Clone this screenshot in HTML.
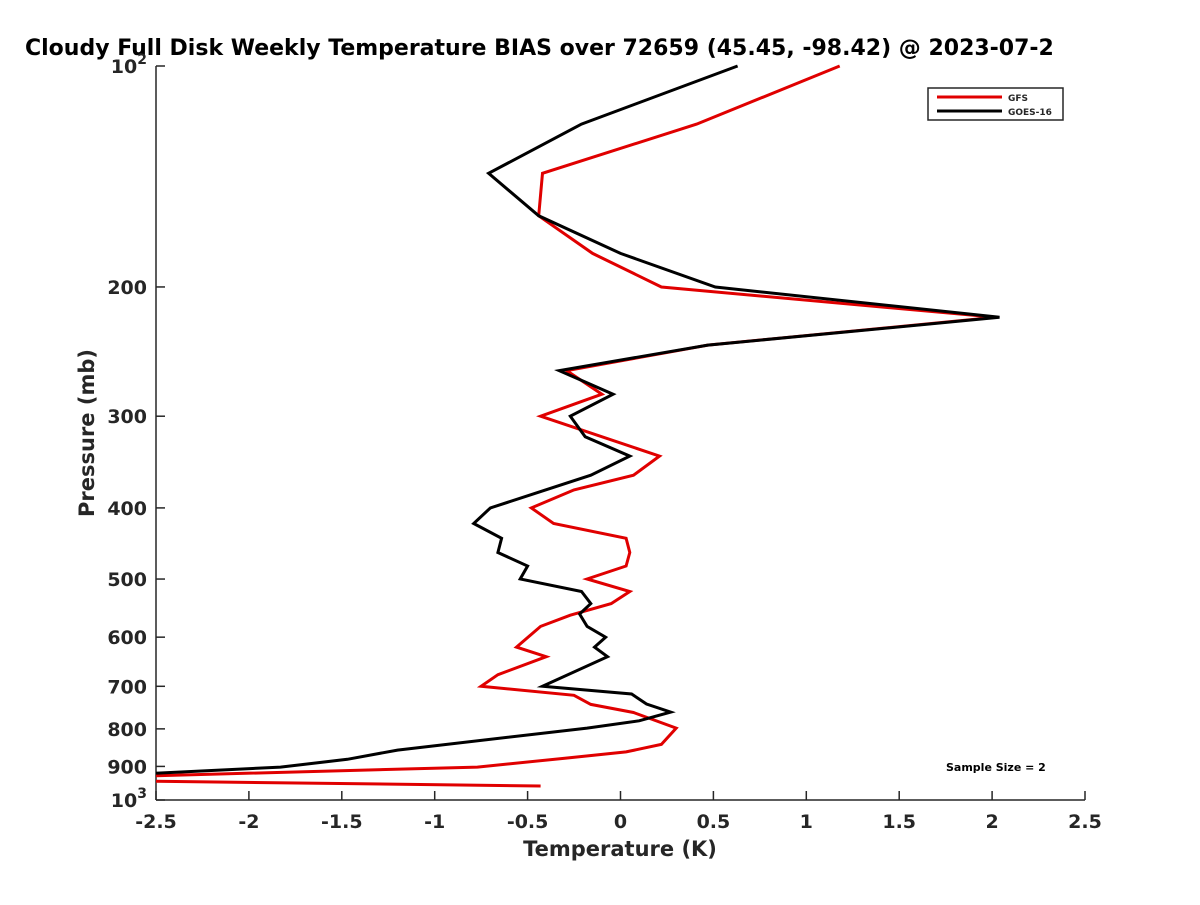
<!DOCTYPE html>
<html><head><meta charset="utf-8"><style>
body{margin:0;background:#fff}
text{font-family:"DejaVu Sans","Liberation Sans",sans-serif;font-weight:bold;fill:#262626}
</style></head><body>
<svg id="chart" width="1200" height="900" xmlns="http://www.w3.org/2000/svg">
<defs><clipPath id="plotclip"><rect x="156" y="40" width="929" height="760"/></clipPath></defs>
<text x="25" y="55" font-size="22" style="fill:#000">Cloudy Full Disk Weekly Temperature BIAS over 72659 (45.45, -98.42) @ 2023-07-2</text>
<g id="axes"></g>
<g id="series" clip-path="url(#plotclip)"></g>
<g>
<rect x="928" y="88" width="135" height="32" fill="#fff" stroke="#262626" stroke-width="1.5"/>
<line x1="937" y1="97" x2="1002" y2="97" stroke="#e00000" stroke-width="3"/>
<text x="1008" y="101" font-size="9">GFS</text>
<line x1="937" y1="111" x2="1002" y2="111" stroke="#000" stroke-width="3"/>
<text x="1008" y="115" font-size="9">GOES-16</text>
</g>
<text x="946" y="771" font-size="11" style="fill:#000">Sample Size = 2</text>
<text x="620" y="856" font-size="21" text-anchor="middle">Temperature (K)</text>
<text transform="translate(94,433) rotate(-90)" font-size="21" text-anchor="middle">Pressure (mb)</text>
</svg>
<script>
const xTicks=[-2.5,-2,-1.5,-1,-0.5,0,0.5,1,1.5,2,2.5];
const xTickLabels=["-2.5","-2","-1.5","-1","-0.5","0","0.5","1","1.5","2","2.5"];
const yTicks=[100,200,300,400,500,600,700,800,900,1000];
const yTickLabels=["10|2","200","300","400","500","600","700","800","900","10|3"];
const gfsTemp=[1.18,0.41,-0.42,-0.44,-0.15,0.22,2.02,0.47,-0.29,-0.10,-0.43,0.21,0.07,-0.25,-0.48,-0.36,0.03,0.05,0.03,-0.18,0.05,-0.05,-0.27,-0.43,-0.56,-0.40,-0.66,-0.75,-0.25,-0.16,0.07,0.30,0.22,0.03,-0.30,-0.77,-2.6,-2.6,-0.43];
const gfsPres=[100,120,140,160,180,200,220,240,260,280,300,340,361,378,400,420,440,460,480,500,520,540,560,580,619,638,675,700,720,741,760,798,840,860,877,902,928,942,957];
const goesTemp=[0.63,-0.21,-0.71,-0.44,0.00,0.51,2.04,0.47,-0.33,-0.04,-0.27,-0.19,0.05,-0.16,-0.43,-0.70,-0.79,-0.64,-0.66,-0.50,-0.54,-0.21,-0.16,-0.22,-0.18,-0.08,-0.14,-0.07,-0.42,0.06,0.14,0.27,0.10,-0.18,-1.20,-1.47,-1.83,-2.49,-2.6];
const goesPres=[100,120,140,160,180,200,220,240,260,280,300,320,340,361,380,400,420,440,460,480,500,520,540,558,580,600,619,638,700,717,740,759,780,798,855,880,902,919,921];
const X0=156,X1=1085,Y0=66,Y1=800;
function xs(v){return X0+(v+2.5)/5*(X1-X0);}
function ys(p){return Y0+(Math.log10(p)-2)*(Y1-Y0);}
const NS="http://www.w3.org/2000/svg";
const axes=document.getElementById('axes');
function mk(tag,attrs,parent){const e=document.createElementNS(NS,tag);for(const k in attrs)e.setAttribute(k,attrs[k]);parent.appendChild(e);return e;}
let ax=mk('line',{x1:X0,y1:Y0,x2:X0,y2:Y1,stroke:'#262626','stroke-width':1.5},axes);


let bx=mk('line',{x1:X0,y1:Y1,x2:X1,y2:Y1,stroke:'#262626','stroke-width':1.5},axes);


xTicks.forEach((v,i)=>{
  const x=xs(v);
  mk('line',{x1:x,y1:Y1,x2:x,y2:Y1-9,stroke:'#262626','stroke-width':1.5},axes);
  const t=mk('text',{x:x,y:Y1+28,'font-size':19,'text-anchor':'middle'},axes);
  t.textContent=xTickLabels[i];
  
  
});
yTicks.forEach((p,i)=>{
  const y=ys(p);
  mk('line',{x1:X0,y1:y,x2:X0+9,y2:y,stroke:'#262626','stroke-width':1.5},axes);
  const parts=yTickLabels[i].split('|');
  const t=mk('text',{x:X0-9,y:y+7,'font-size':19,'text-anchor':'end'},axes);
  
  
  if(parts.length>1){
    const a=mk('tspan',{},t);a.textContent=parts[0];
    const b=mk('tspan',{dy:-9,'font-size':14},t);b.textContent=parts[1];
  } else t.textContent=parts[0];
});
const series=document.getElementById('series');
function drawLine(T,P,color,name){
  const pts=T.map((v,i)=>xs(v).toFixed(1)+','+ys(P[i]).toFixed(1)).join(' ');
  const pl=mk('polyline',{points:pts,fill:'none',stroke:color,'stroke-width':3,'stroke-linejoin':'miter'},series);
  
  
}
drawLine(gfsTemp,gfsPres,'#e00000','gfs-line');
drawLine(goesTemp,goesPres,'#000','goes16-line');
</script>
</body></html>
